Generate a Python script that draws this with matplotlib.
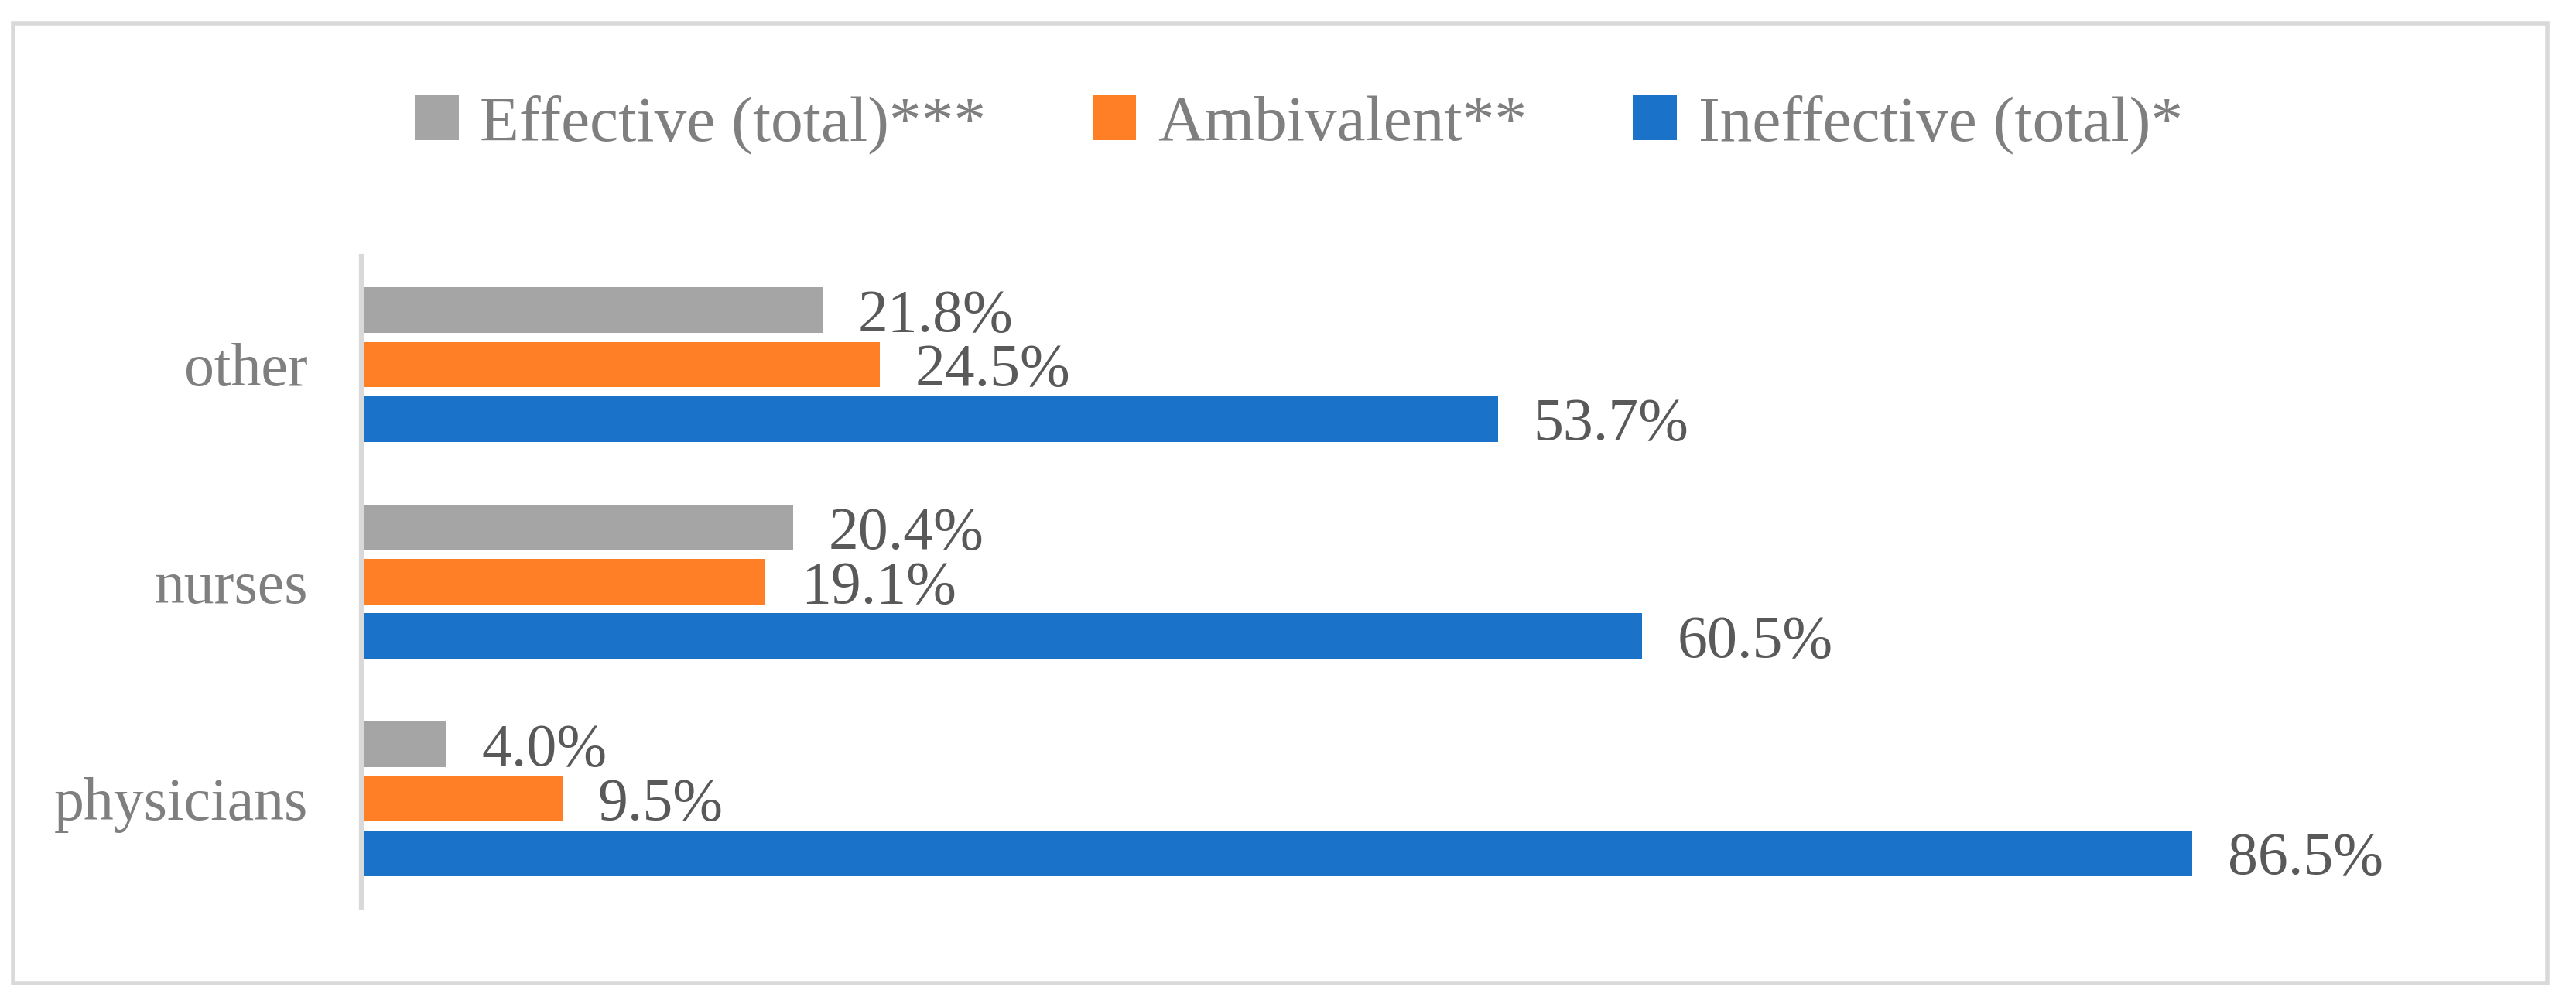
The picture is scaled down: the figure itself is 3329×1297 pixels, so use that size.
import matplotlib
matplotlib.use("Agg")
import matplotlib.pyplot as plt
from matplotlib.patches import Rectangle

# data (bottom to top on the chart)
groups = ["physicians", "nurses", "other"]
series_names = ["Effective (total)***", "Ambivalent**", "Ineffective (total)*"]
effective = [4.0, 20.4, 21.8]
ambivalent = [9.5, 19.1, 24.5]
ineffective = [86.5, 60.5, 53.7]
colors = ["#A5A5A5", "#FF7F27", "#1A73C8"]

plt.rcParams['font.family'] = ['Liberation Serif', 'DejaVu Serif']

fig = plt.figure(figsize=(33.3, 12.97), dpi=100)
ax = fig.add_axes([467/3330, 0.0962, (3202-467)/3330, 0.745-0.0962])

offsets = [0.25, 0.0, -0.25]
bar_h = 0.21
handles = []
for vals, name, col, off in zip([effective, ambivalent, ineffective], series_names, colors, offsets):
    ys = [i + off for i in range(len(groups))]
    b = ax.barh(ys, vals, height=bar_h, color=col, label=name)
    handles.append(b)
    for y, v in zip(ys, vals):
        ax.annotate("%.1f%%" % v, xy=(v, y), xytext=(33, 0), textcoords="offset points",
                    va="center_baseline", ha="left", fontsize=56, color="#595959")

ax.set_xlim(0, 100)
ax.set_ylim(-0.5, 2.5)
ax.set_yticks(range(len(groups)))
ax.set_yticklabels(groups, fontsize=56, color="#7F7F7F")
ax.tick_params(axis="y", length=0, pad=50)
ax.set_xticks([])
for s in ["top", "right", "bottom"]:
    ax.spines[s].set_visible(False)
ax.spines["left"].set_color("#D9D9D9")
ax.spines["left"].set_linewidth(4.5)

leg = fig.legend(handles=handles, labels=series_names, loc="center", bbox_to_anchor=(0.504, 0.876),
                 ncol=3, frameon=False, fontsize=60, handlelength=0.68, handleheight=0.68,
                 handletextpad=0.33, columnspacing=1.65)
for t in leg.get_texts():
    t.set_color("#7F7F7F")

# outer chart border
fig.add_artist(Rectangle((17/3330, 1-1270/1297), 3275/3330, 1240/1297, transform=fig.transFigure,
                         fill=False, edgecolor="#D9D9D9", linewidth=4))

fig.savefig("out.png", dpi=100, facecolor="white")
